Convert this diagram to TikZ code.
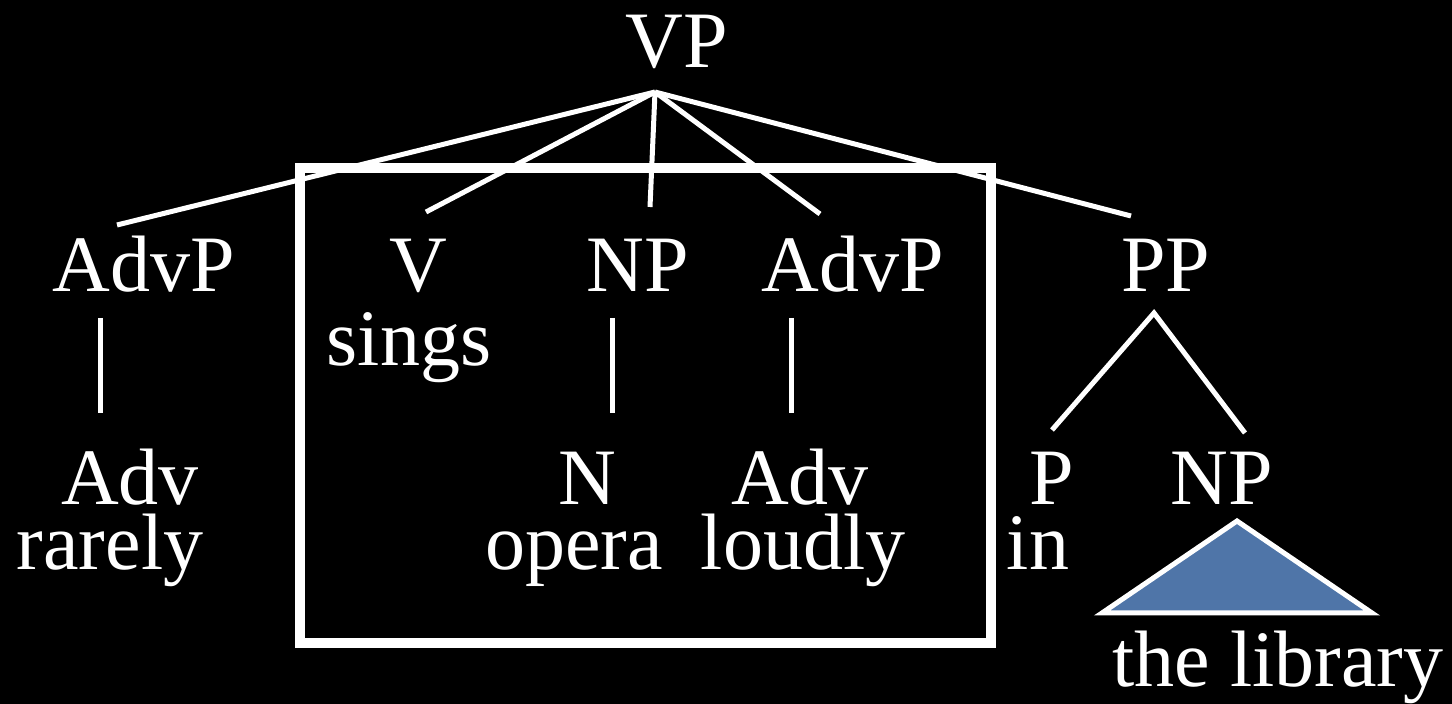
\documentclass[tikz,border=0pt]{standalone}
\usepackage{fontspec}
\setmainfont{Liberation Serif}
\definecolor{treeBlue}{RGB}{79,117,168}
\usetikzlibrary{calc}

\begin{document}
\begin{tikzpicture}[
    x=0.5pt, y=-0.5pt,
    cat/.style={anchor=base, inner sep=0pt, text=white, font=\fontsize{40}{48}\selectfont},
    branch/.style={white, line width=2.5pt},
    bar/.style={white, line width=2.5pt}
  ]
  \fill[black] (0,0) rectangle (1452,704);
  \useasboundingbox (0,0) rectangle (1452,704);

  % top row
  \node[cat] (vp)    at (677, 68)  {VP};
  \node[cat] (advp1) at (144, 292) {AdvP};
  \node[cat] (v)     at (418, 292) {V};
  \node[cat] (np1)   at (638, 292) {NP};
  \node[cat] (advp2) at (853, 292) {AdvP};
  \node[cat] (pp)    at (1166,292) {PP};
  \node[cat] (sings) at (409, 366) {sings};

  % lower rows
  \node[cat] (adv1)   at (130, 505) {Adv};
  \node[cat] (rarely) at (110, 570) {rarely};
  \node[cat] (n)      at (587, 505) {N};
  \node[cat] (opera)  at (574, 570) {opera};
  \node[cat] (adv2)   at (800, 505) {Adv};
  \node[cat] (loudly) at (803, 570) {loudly};
  \node[cat] (p)      at (1052,505) {P};
  \node[cat] (in)     at (1038,570) {in};
  \node[cat] (np2)    at (1222,505) {NP};
  \node[cat] (lib)    at (1278,687) {the library};

  % attachment points
  \coordinate (vp-foot)   at (655, 92);
  \coordinate (advp1-top) at (117, 225);
  \coordinate (v-top)     at (426, 212);
  \coordinate (np1-top)   at (650, 207);
  \coordinate (advp2-top) at (820, 214);
  \coordinate (pp-top)    at (1131,216);
  \coordinate (pp-foot)   at (1154,313);
  \coordinate (p-top)     at (1052,430);
  \coordinate (np2-top)   at (1245,433);

  \foreach \c in {advp1-top,v-top,np1-top,advp2-top,pp-top}
    \draw[branch] (vp-foot) -- (\c);
  \draw[branch] (p-top) -- (pp-foot) -- (np2-top);

  % unary branches
  \foreach \x/\name in {100/advp1, 612/np1, 791/advp2} {
    \coordinate (\name-bot) at (\x, 318);
    \coordinate (\name-sub) at (\x, 413);
    \draw[bar] (\name-bot) -- (\name-sub);
  }

  % roof over the library
  \coordinate (roof-top)   at (1237,521);
  \coordinate (roof-left)  at (1102,613);
  \coordinate (roof-right) at (1372,613);
  \draw[white, line width=2.5pt, fill=treeBlue]
    (roof-top) -- (roof-left) -- (roof-right) -- cycle;

  % the boxed constituent
  \draw[white, line width=5pt] (300,168) rectangle (991,643);
\end{tikzpicture}
\end{document}
